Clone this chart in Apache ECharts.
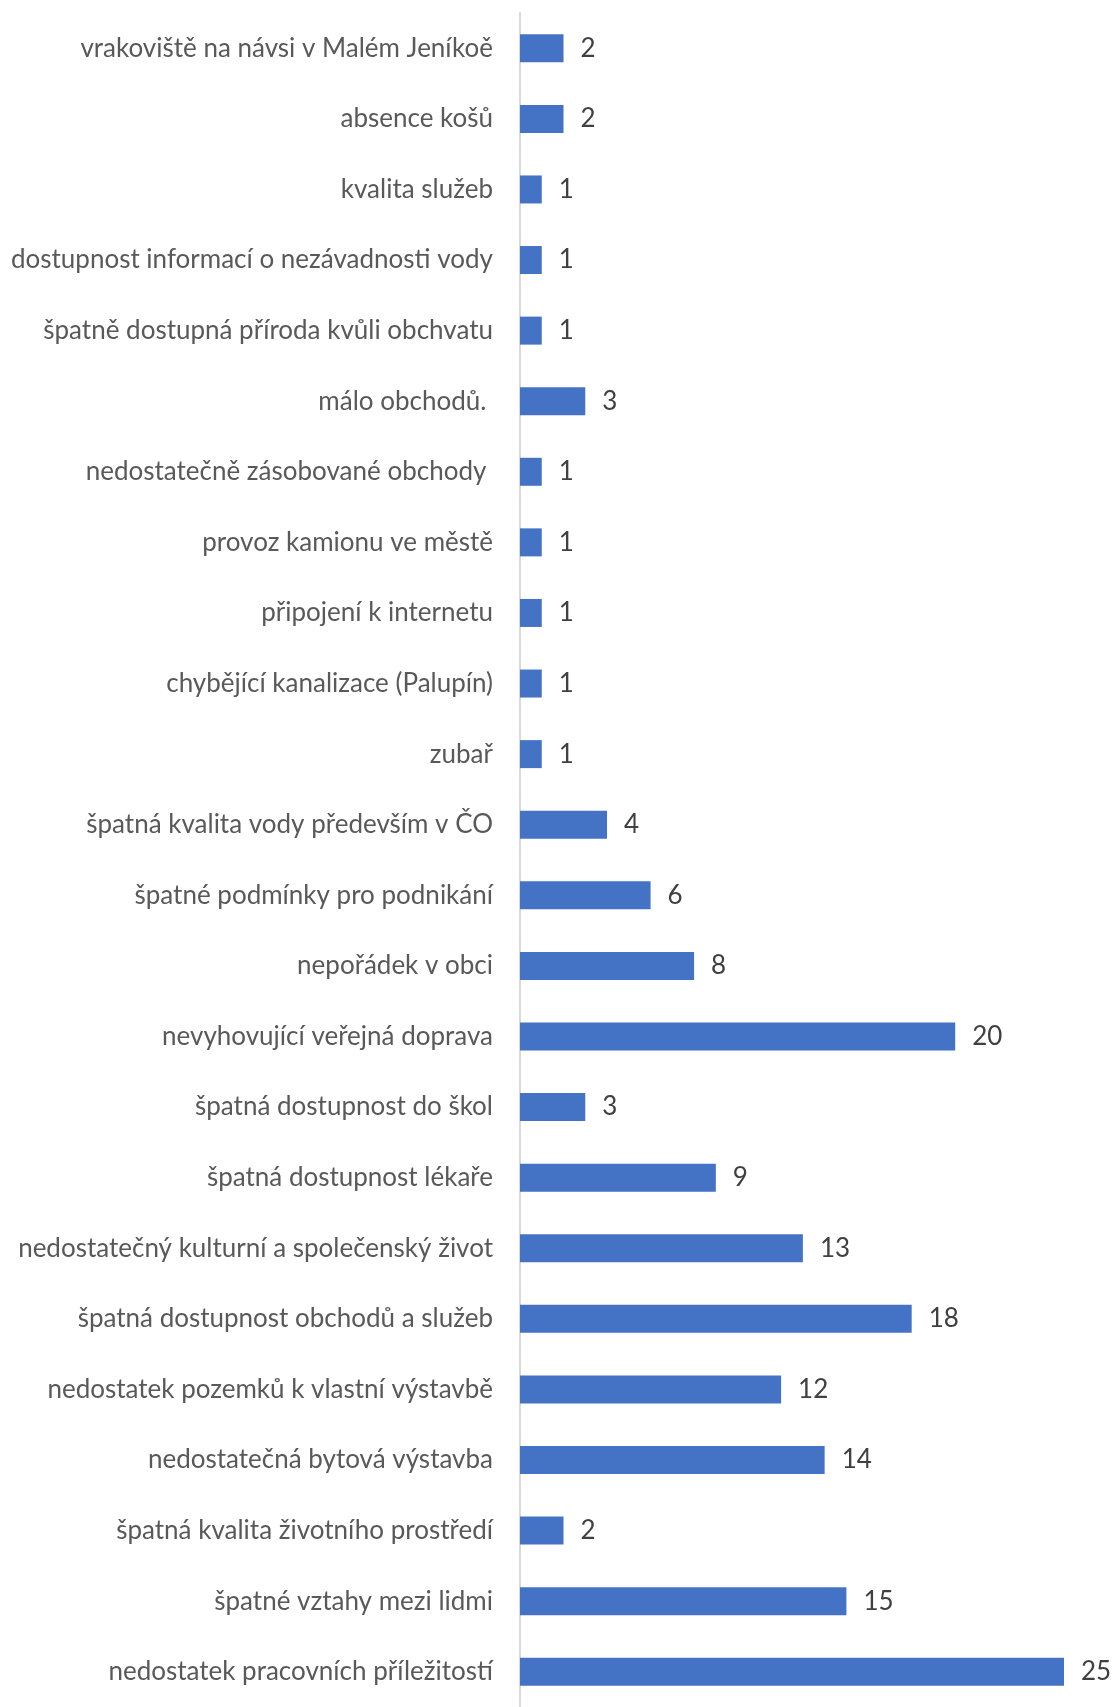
<!DOCTYPE html>
<html><head><meta charset="utf-8">
<script src="https://cdn.jsdelivr.net/npm/echarts@6/dist/echarts.min.js"></script>
<style>html,body{margin:0;padding:0;background:#fff}#c{width:1116px;height:1707px}</style>
</head><body><div id="c"></div>
<script>
const categories = [
  "vrakoviště na návsi v Malém Jeníkoě",
  "absence košů",
  "kvalita služeb",
  "dostupnost informací o nezávadnosti vody",
  "špatně dostupná příroda kvůli obchvatu",
  "málo obchodů. ",
  "nedostatečně zásobované obchody ",
  "provoz kamionu ve městě",
  "připojení k internetu",
  "chybějící kanalizace (Palupín)",
  "zubař",
  "špatná kvalita vody především v ČO",
  "špatné podmínky pro podnikání",
  "nepořádek v obci",
  "nevyhovující veřejná doprava",
  "špatná dostupnost do škol",
  "špatná dostupnost lékaře",
  "nedostatečný kulturní a společenský život",
  "špatná dostupnost obchodů a služeb",
  "nedostatek pozemků k vlastní výstavbě",
  "nedostatečná bytová výstavba",
  "špatná kvalita životního prostředí",
  "špatné vztahy mezi lidmi",
  "nedostatek pracovních příležitostí"
];
const values = [2,2,1,1,1,3,1,1,1,1,1,4,6,8,20,3,9,13,18,12,14,2,15,25];

const chart = echarts.init(document.getElementById('c'), null, {renderer:'canvas'});
chart.setOption({
  animation: false,
  grid: {left: 520, top: 13, width: 544, height: 1702, containLabel: false},
  xAxis: {type: 'value', min: 0, max: 25, show: false},
  yAxis: {
    type: 'category', data: categories, inverse: true,
    axisLine: {show: true, lineStyle: {color: '#d9d9d9', width: 2}},
    axisTick: {show: false},
    axisLabel: {color: '#595959', fontFamily: 'Lato', fontSize: 26, margin: 27}
  },
  series: [{
    type: 'bar', data: values, barWidth: 28,
    itemStyle: {color: '#4472C4'},
    label: {show: true, position: 'right', distance: 17, color: '#404040', fontFamily: 'Lato', fontSize: 26}
  }]
});
</script></body></html>
